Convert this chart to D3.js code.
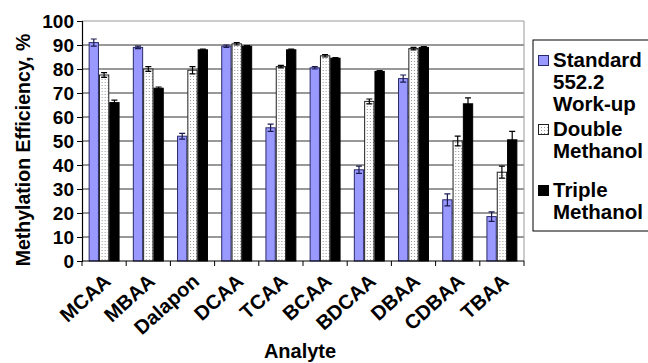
<!DOCTYPE html>
<html>
<head>
<meta charset="utf-8">
<script src="https://cdn.jsdelivr.net/npm/d3@7"></script>
<style>
  body { margin: 0; background: #fff; }
  text { font-family: "Liberation Sans", Arial, sans-serif; font-weight: bold; }
</style>
</head>
<body>
<div id="chart"></div>
<script>
const analytes = ['MCAA', 'MBAA', 'Dalapon', 'DCAA', 'TCAA', 'BCAA', 'BDCAA', 'DBAA', 'CDBAA', 'TBAA'];
const seriesNames = ['Standard 552.2 Work-up', 'Double Methanol', 'Triple Methanol'];
const standard = [91, 89, 52, 89.5, 55.5, 80.5, 38, 76, 25.5, 18.5];
const standardErr = [1.5, 0.5, 1.2, 0.5, 1.5, 0.5, 1.5, 1.5, 2.5, 2];
const double = [77.5, 80, 79.5, 90.5, 81, 85.5, 66.5, 88.5, 50, 37];
const doubleErr = [1, 1, 1.5, 0.5, 0.5, 0.5, 1, 0.5, 2, 2.5];
const triple = [66, 72, 88, 89.5, 88, 84.5, 79, 89, 65.5, 50.5];
const tripleErr = [1, 0.5, 0.3, 0.3, 0.3, 0.3, 0.3, 0.3, 2.5, 3.5];
const yTicks = [0, 10, 20, 30, 40, 50, 60, 70, 80, 90, 100];
const legendLines = [['Standard', '552.2', 'Work-up'], ['Double', 'Methanol'], ['Triple', 'Methanol']];

const W = 648, H = 363;
const m = {left: 82, right: 524, top: 21, bottom: 261};

const svg = d3.select('#chart').append('svg').attr('width', W).attr('height', H);

const defs = svg.append('defs');
const pat = defs.append('pattern').attr('id', 'dots')
    .attr('patternUnits', 'userSpaceOnUse').attr('width', 3).attr('height', 3);
pat.append('rect').attr('width', 3).attr('height', 3).attr('fill', '#fff');
pat.append('rect').attr('x', 1).attr('y', 1).attr('width', 1).attr('height', 1).attr('fill', '#999');

const fills = ['#9999ff', 'url(#dots)', '#000'];
const strokes = ['#2a2a6a', '#222', '#000'];

const x0 = d3.scaleBand().domain(analytes).range([m.left, m.right])
    .paddingInner(0.3).paddingOuter(0.15);
const x1 = d3.scaleBand().domain([0, 1, 2]).range([0, x0.bandwidth()]);
const y = d3.scaleLinear().domain([0, 100]).range([m.bottom, m.top]);

// gridlines
svg.append('g').selectAll('line').data(yTicks.filter(d => d > 0)).enter().append('line')
    .attr('x1', m.left).attr('x2', m.right)
    .attr('y1', d => y(d)).attr('y2', d => y(d))
    .attr('stroke', d => d === 100 ? '#999' : '#333').attr('stroke-width', 1);
svg.append('line').attr('x1', m.right).attr('x2', m.right).attr('y1', m.top).attr('y2', m.bottom)
    .attr('stroke', '#999');

const rows = analytes.map((a, i) => ({
  a,
  vals: [[standard[i], standardErr[i]], [double[i], doubleErr[i]], [triple[i], tripleErr[i]]]
}));

const grp = svg.append('g').selectAll('g').data(rows).enter().append('g')
    .attr('transform', d => 'translate(' + x0(d.a) + ',0)');

grp.selectAll('rect').data(d => d.vals).enter().append('rect')
    .attr('x', (d, i) => x1(i) + 0.5)
    .attr('y', d => y(d[0]))
    .attr('width', x1.bandwidth() - 1)
    .attr('height', d => y(0) - y(d[0]))
    .attr('fill', (d, i) => fills[i])
    .attr('stroke', (d, i) => strokes[i]).attr('stroke-width', 1);

// error bars
grp.selectAll('path.err').data(d => d.vals).enter().append('path')
    .attr('class', 'err')
    .attr('d', (d, i) => {
      const cx = x1(i) + x1.bandwidth() / 2;
      const t = y(d[0] + d[1]), b = y(d[0] - d[1]);
      return 'M' + (cx - 3) + ',' + t + 'H' + (cx + 3) + 'M' + cx + ',' + t + 'V' + b +
             'M' + (cx - 3) + ',' + b + 'H' + (cx + 3);
    })
    .attr('fill', 'none').attr('stroke', (d, i) => i === 0 ? '#1a1a50' : '#000').attr('stroke-width', 1.2);

// y axis
const yAxis = svg.append('g').attr('transform', 'translate(' + m.left + ',0)')
    .call(d3.axisLeft(y).tickValues(yTicks).tickSize(5).tickPadding(3));
yAxis.select('.domain').attr('stroke', '#000').attr('stroke-width', 1.2);
yAxis.selectAll('.tick line').attr('stroke', '#000');
yAxis.selectAll('text').attr('font-size', 19).attr('fill', '#000')
    .style('font-family', '"Liberation Sans", Arial, sans-serif').style('font-weight', 'bold');

// x axis
const step = x0.step();
const xAxis = svg.append('g').attr('transform', 'translate(0,' + m.bottom + ')');
xAxis.append('line').attr('x1', m.left).attr('x2', m.right).attr('stroke', '#000').attr('stroke-width', 1.2);
xAxis.selectAll('line.tk').data(d3.range(analytes.length + 1)).enter().append('line')
    .attr('class', 'tk')
    .attr('x1', i => m.left + i * step).attr('x2', i => m.left + i * step)
    .attr('y1', 0).attr('y2', 5).attr('stroke', '#000');
xAxis.selectAll('text.lbl').data(analytes).enter().append('text')
    .attr('class', 'lbl')
    .attr('transform', d => 'translate(' + (x0(d) + x0.bandwidth() / 2 + 8) + ',22) rotate(-42)')
    .attr('text-anchor', 'end').attr('font-size', 20).attr('fill', '#000')
    .text(d => d);

// axis titles
svg.append('text').attr('transform', 'translate(30,150) rotate(-90)')
    .attr('text-anchor', 'middle').attr('font-size', 19.5).text('Methylation Efficiency, %');
svg.append('text').attr('x', 300).attr('y', 358)
    .attr('text-anchor', 'middle').attr('font-size', 20).text('Analyte');

// legend
const legendTop = [67, 136, 197];
const lg = svg.append('g');
lg.append('rect').attr('x', 533).attr('y', 40).attr('width', 140).attr('height', 191)
    .attr('fill', '#fff').attr('stroke', '#000').attr('stroke-width', 1);
legendLines.forEach((lines, i) => {
  const ly = legendTop[i];
  lg.append('rect').attr('x', 538.5).attr('y', ly - 11.5).attr('width', 10).attr('height', 10)
      .attr('fill', fills[i]).attr('stroke', strokes[i]);
  lines.forEach((t, j) => {
    lg.append('text').attr('x', 553).attr('y', ly + j * 22).attr('font-size', 20.5).text(t);
  });
});
</script>
</body>
</html>
